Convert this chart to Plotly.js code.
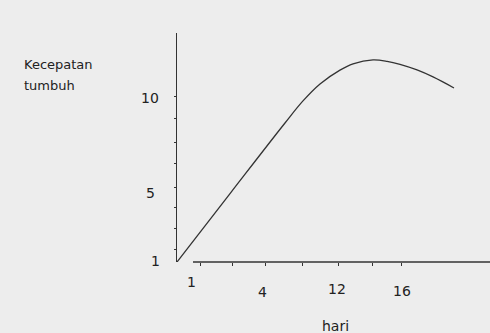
<!DOCTYPE html>
<html>
<head>
<meta charset="utf-8">
<script src="https://cdn.plot.ly/plotly-3.0.1.min.js"></script>
<style>
  html, body { margin: 0; padding: 0; background: #ededed; }
  #chart { width: 490px; height: 333px; }
</style>
</head>
<body>
<div id="chart"></div>
<script>
// ---- data ----
const hari = [0, 3.84, 7.68, 8.96, 10.17, 11.59, 12.52, 13.94, 14.94, 15.86, 17.07, 18.21, 19.70];
const kecepatan = [0.76, 4.74, 8.70, 9.96, 10.93, 11.72, 12.08, 12.30, 12.22, 12.05, 11.73, 11.33, 10.70];

const xTickLabels = ['1', '4', '12', '16'];
const xTickLabelAt = [1.0, 6.1, 11.4, 16.0];       // where the sketch wrote them
const yTickLabels = ['1', '5', '10'];
const yTickLabelAt = [1, 5, 10];

const xTickMarks = [1.64, 3.98, 6.26, 8.89, 11.45, 13.87, 16.0];
const yTickMarks = [1.50, 2.65, 3.85, 5.04, 6.36, 7.61, 8.93, 10.24];

const yAxisTitle = ['Kecepatan', 'tumbuh'];
const xAxisTitle = 'hari';

// ---- layout helpers (style / placement only) ----
const FONT = 'DejaVu Sans, sans-serif';
const INK = '#222222';
const xLabelDrop = [20, 30, 27, 29];      // px below axis line (hand-drawn stagger)
const yLabelShift = [-3, -5, 2];          // px vertical nudge
const yLabelPx = [155, 150, 150];         // label centre in page px
const plotL = 177, plotW = 313, plotT = 33, plotH = 229;

const annotations = [];
xTickLabels.forEach((t, i) => {
  annotations.push({
    text: t, x: xTickLabelAt[i], xref: 'x',
    y: -xLabelDrop[i] / plotH, yref: 'paper',
    xanchor: 'center', yanchor: 'middle', showarrow: false,
    font: { family: FONT, size: 14, color: INK }
  });
});
yTickLabels.forEach((t, i) => {
  annotations.push({
    text: t, x: (yLabelPx[i] - plotL) / plotW, xref: 'paper',
    y: yTickLabelAt[i], yref: 'y', yshift: yLabelShift[i],
    xanchor: 'center', yanchor: 'middle', showarrow: false,
    font: { family: FONT, size: 14, color: INK }
  });
});
[64, 85].forEach((py, i) => {
  annotations.push({
    text: yAxisTitle[i], x: (22 - plotL) / plotW, xref: 'paper',
    y: (plotT + plotH - py) / plotH, yref: 'paper',
    xanchor: 'left', yanchor: 'middle', showarrow: false,
    font: { family: FONT, size: 13, color: INK }
  });
});
annotations.push({
  text: xAxisTitle, x: (335 - plotL) / plotW, xref: 'paper',
  y: -(326 - plotT - plotH) / plotH, yref: 'paper',
  xanchor: 'center', yanchor: 'middle', showarrow: false,
  font: { family: FONT, size: 14, color: INK }
});

const trace = {
  x: hari, y: kecepatan, type: 'scatter', mode: 'lines',
  line: { color: '#333333', width: 1.3, shape: 'spline', smoothing: 1 },
  hoverinfo: 'skip'
};

const layout = {
  width: 490, height: 333,
  margin: { l: plotL, r: 0, t: plotT, b: 333 - plotT - plotH },
  paper_bgcolor: '#ededed', plot_bgcolor: '#ededed',
  showlegend: false,
  xaxis: {
    range: [0, 22.26], showgrid: false, zeroline: false, showline: false,
    tickmode: 'array', tickvals: xTickMarks, ticks: 'outside', ticklen: 3,
    tickwidth: 1, tickcolor: '#333', showticklabels: false, fixedrange: true
  },
  yaxis: {
    range: [0.76, 13.84], showgrid: false, zeroline: false,
    showline: true, linecolor: '#333', linewidth: 1.5,
    tickmode: 'array', tickvals: yTickMarks, ticks: 'outside', ticklen: 2,
    tickwidth: 1, tickcolor: '#333', showticklabels: false, fixedrange: true
  },
  shapes: [{
    type: 'line', xref: 'paper', yref: 'paper',
    x0: (193 - plotL) / plotW, x1: 1, y0: 0, y1: 0,
    line: { color: '#333', width: 1.5 }
  }],
  annotations: annotations
};

Plotly.newPlot('chart', [trace], layout, { staticPlot: true, displayModeBar: false });
</script>
</body>
</html>
